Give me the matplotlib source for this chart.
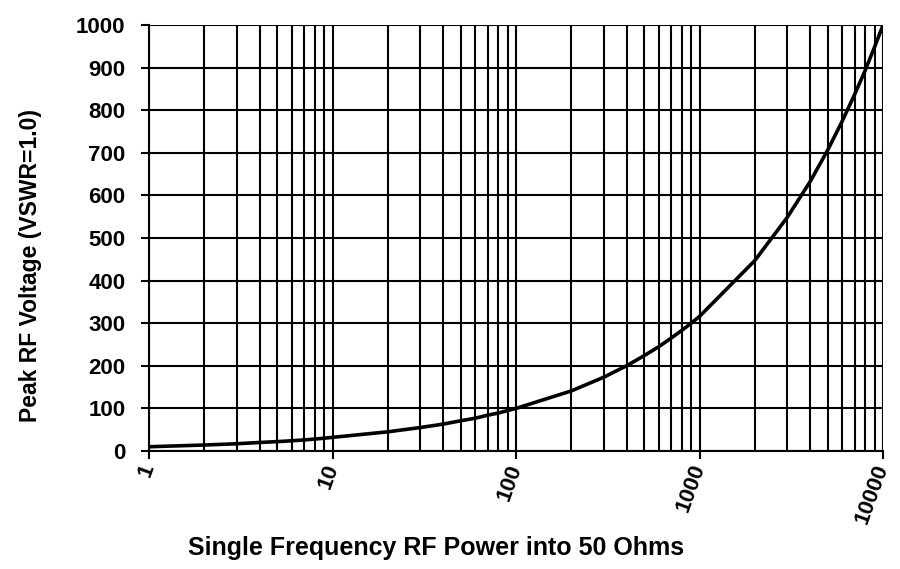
import matplotlib
matplotlib.use("Agg")
import matplotlib.pyplot as plt
from matplotlib.ticker import FixedLocator, NullFormatter

# data: RF power (W) and peak voltage (V)
power = [1, 2, 3, 4, 5, 6, 7, 8, 9, 10,
         20, 30, 40, 50, 60, 70, 80, 90, 100,
         200, 300, 400, 500, 600, 700, 800, 900, 1000,
         2000, 3000, 4000, 5000, 6000, 7000, 8000, 9000, 10000]
voltage = [10, 14, 17, 20, 22, 24, 26, 28, 30, 32,
           45, 55, 63, 71, 77, 84, 89, 95, 100,
           141, 173, 200, 224, 245, 265, 283, 300, 316,
           447, 548, 632, 707, 775, 837, 894, 949, 1000]
x_ticks = [1, 10, 100, 1000, 10000]
x_labels = ["1", "10", "100", "1000", "10000"]
y_ticks = [0, 100, 200, 300, 400, 500, 600, 700, 800, 900, 1000]

plt.rcParams['font.family'] = ['Liberation Sans', 'DejaVu Sans']
plt.rcParams['font.weight'] = 'bold'

fig = plt.figure(figsize=(9, 5.69), dpi=100)
ax = fig.add_axes([0.1656, 0.2074, 0.8156, 0.7487])

ax.plot(power, voltage, color="black", lw=2.6, zorder=3)
ax.set_xscale("log")
ax.set_xlim(1, 10000)
ax.set_ylim(0, 1000)

minors = [m * 10**d for d in range(4) for m in range(2, 10)]
ax.xaxis.set_major_locator(FixedLocator(x_ticks))
ax.xaxis.set_minor_locator(FixedLocator(minors))
ax.xaxis.set_minor_formatter(NullFormatter())
ax.set_xticks(x_ticks, x_labels)
ax.set_yticks(y_ticks)

ax.grid(True, which="both", axis="x", color="black", lw=1.5)
ax.grid(True, which="major", axis="y", color="black", lw=1.5)

for s in ["top", "right"]:
    ax.spines[s].set_visible(False)
ax.spines["left"].set_linewidth(1.5)
ax.spines["bottom"].set_linewidth(1.5)

ax.tick_params(axis="y", which="major", length=6, width=1.5, labelsize=16, pad=11)
ax.tick_params(axis="x", which="major", length=6, width=1.5, labelsize=16, pad=4)
ax.tick_params(axis="x", which="minor", length=0)
for lab in ax.get_xticklabels():
    lab.set_rotation(70)
    lab.set_ha("right")
    lab.set_va("center")
    lab.set_rotation_mode("anchor")

fig.text(0.034, 0.534, "Peak RF Voltage (VSWR=1.0)", rotation=90, fontsize=16.5,
         fontweight="bold", ha="center", va="center")
fig.text(0.484, 0.037, "Single Frequency RF Power into 50 Ohms", fontsize=18,
         fontweight="bold", ha="center", va="center")

fig.savefig("out.png", dpi=100)
